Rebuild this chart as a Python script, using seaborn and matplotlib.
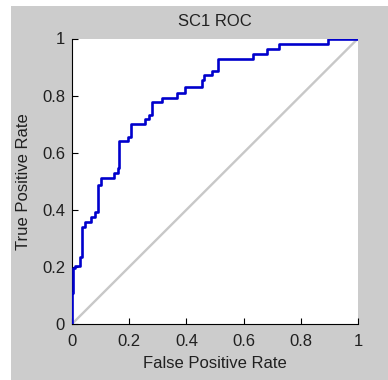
import matplotlib
matplotlib.use("Agg")
import matplotlib.pyplot as plt
from matplotlib.patches import Rectangle
import seaborn as sns
import pandas as pd

# ROC operating points (corners of the staircase)
fpr = [0.0, 0.0, 0.003, 0.012, 0.028, 0.035, 0.047, 0.066, 0.081, 0.090, 0.101,
       0.148, 0.160, 0.165, 0.195, 0.205, 0.255, 0.270, 0.281, 0.314, 0.366,
       0.395, 0.453, 0.462, 0.488, 0.512, 0.634, 0.681, 0.724, 0.894, 1.0]
tpr = [0.0, 0.109, 0.196, 0.203, 0.236, 0.341, 0.358, 0.376, 0.393, 0.487, 0.510,
       0.528, 0.545, 0.641, 0.656, 0.699, 0.717, 0.732, 0.777, 0.793, 0.810,
       0.829, 0.853, 0.872, 0.887, 0.927, 0.946, 0.963, 0.981, 1.0, 1.0]
chance = [0.0, 1.0]
ticks = [0, 0.2, 0.4, 0.6, 0.8, 1]
tick_labels = ["0", "0.2", "0.4", "0.6", "0.8", "1"]

sns.set_style("ticks")
plt.rcParams["font.family"] = ["Liberation Sans", "DejaVu Sans"]

fig = plt.figure(figsize=(3.88, 3.80), dpi=100, facecolor="white")
fig.patches.append(Rectangle((11 / 388, 0), 1 - 11 / 388, 374 / 380,
                             transform=fig.transFigure, facecolor="#cccccc",
                             edgecolor="none", zorder=-10))

ax = fig.add_axes([72 / 388, 56 / 380, 286 / 388, 285.5 / 380])
ax.set_facecolor("white")

roc = pd.DataFrame({"fpr": fpr, "tpr": tpr})
diag = pd.DataFrame({"x": chance, "y": chance})

sns.lineplot(data=diag, x="x", y="y", ax=ax, color="#c8c8c8", linewidth=1.7,
             estimator=None, sort=False, zorder=3)
sns.lineplot(data=roc, x="fpr", y="tpr", ax=ax, color="#0000cc", linewidth=1.9,
             estimator=None, sort=False, drawstyle="steps-post", zorder=4)

ax.set_xlim(0, 1)
ax.set_ylim(0, 1)
ax.set_xticks(ticks)
ax.set_xticklabels(tick_labels)
ax.set_yticks(ticks)
ax.set_yticklabels(tick_labels)

for s in ("top", "right"):
    ax.spines[s].set_visible(False)
for s in ("left", "bottom"):
    ax.spines[s].set_color("#000000")
    ax.spines[s].set_linewidth(0.8)

ax.tick_params(direction="in", length=4, width=0.8, color="#000000",
               labelsize=12, labelcolor="#202020")
ax.tick_params(axis="x", pad=7)
ax.tick_params(axis="y", pad=5)

ax.set_xlabel("False Positive Rate", fontsize=12, color="#202020", labelpad=5)
ax.set_ylabel("True Positive Rate", fontsize=12, color="#202020", labelpad=8)
ax.set_title("SC1 ROC", fontsize=12, color="#202020", pad=9)

fig.savefig("out.png", dpi=100, facecolor=fig.get_facecolor())
